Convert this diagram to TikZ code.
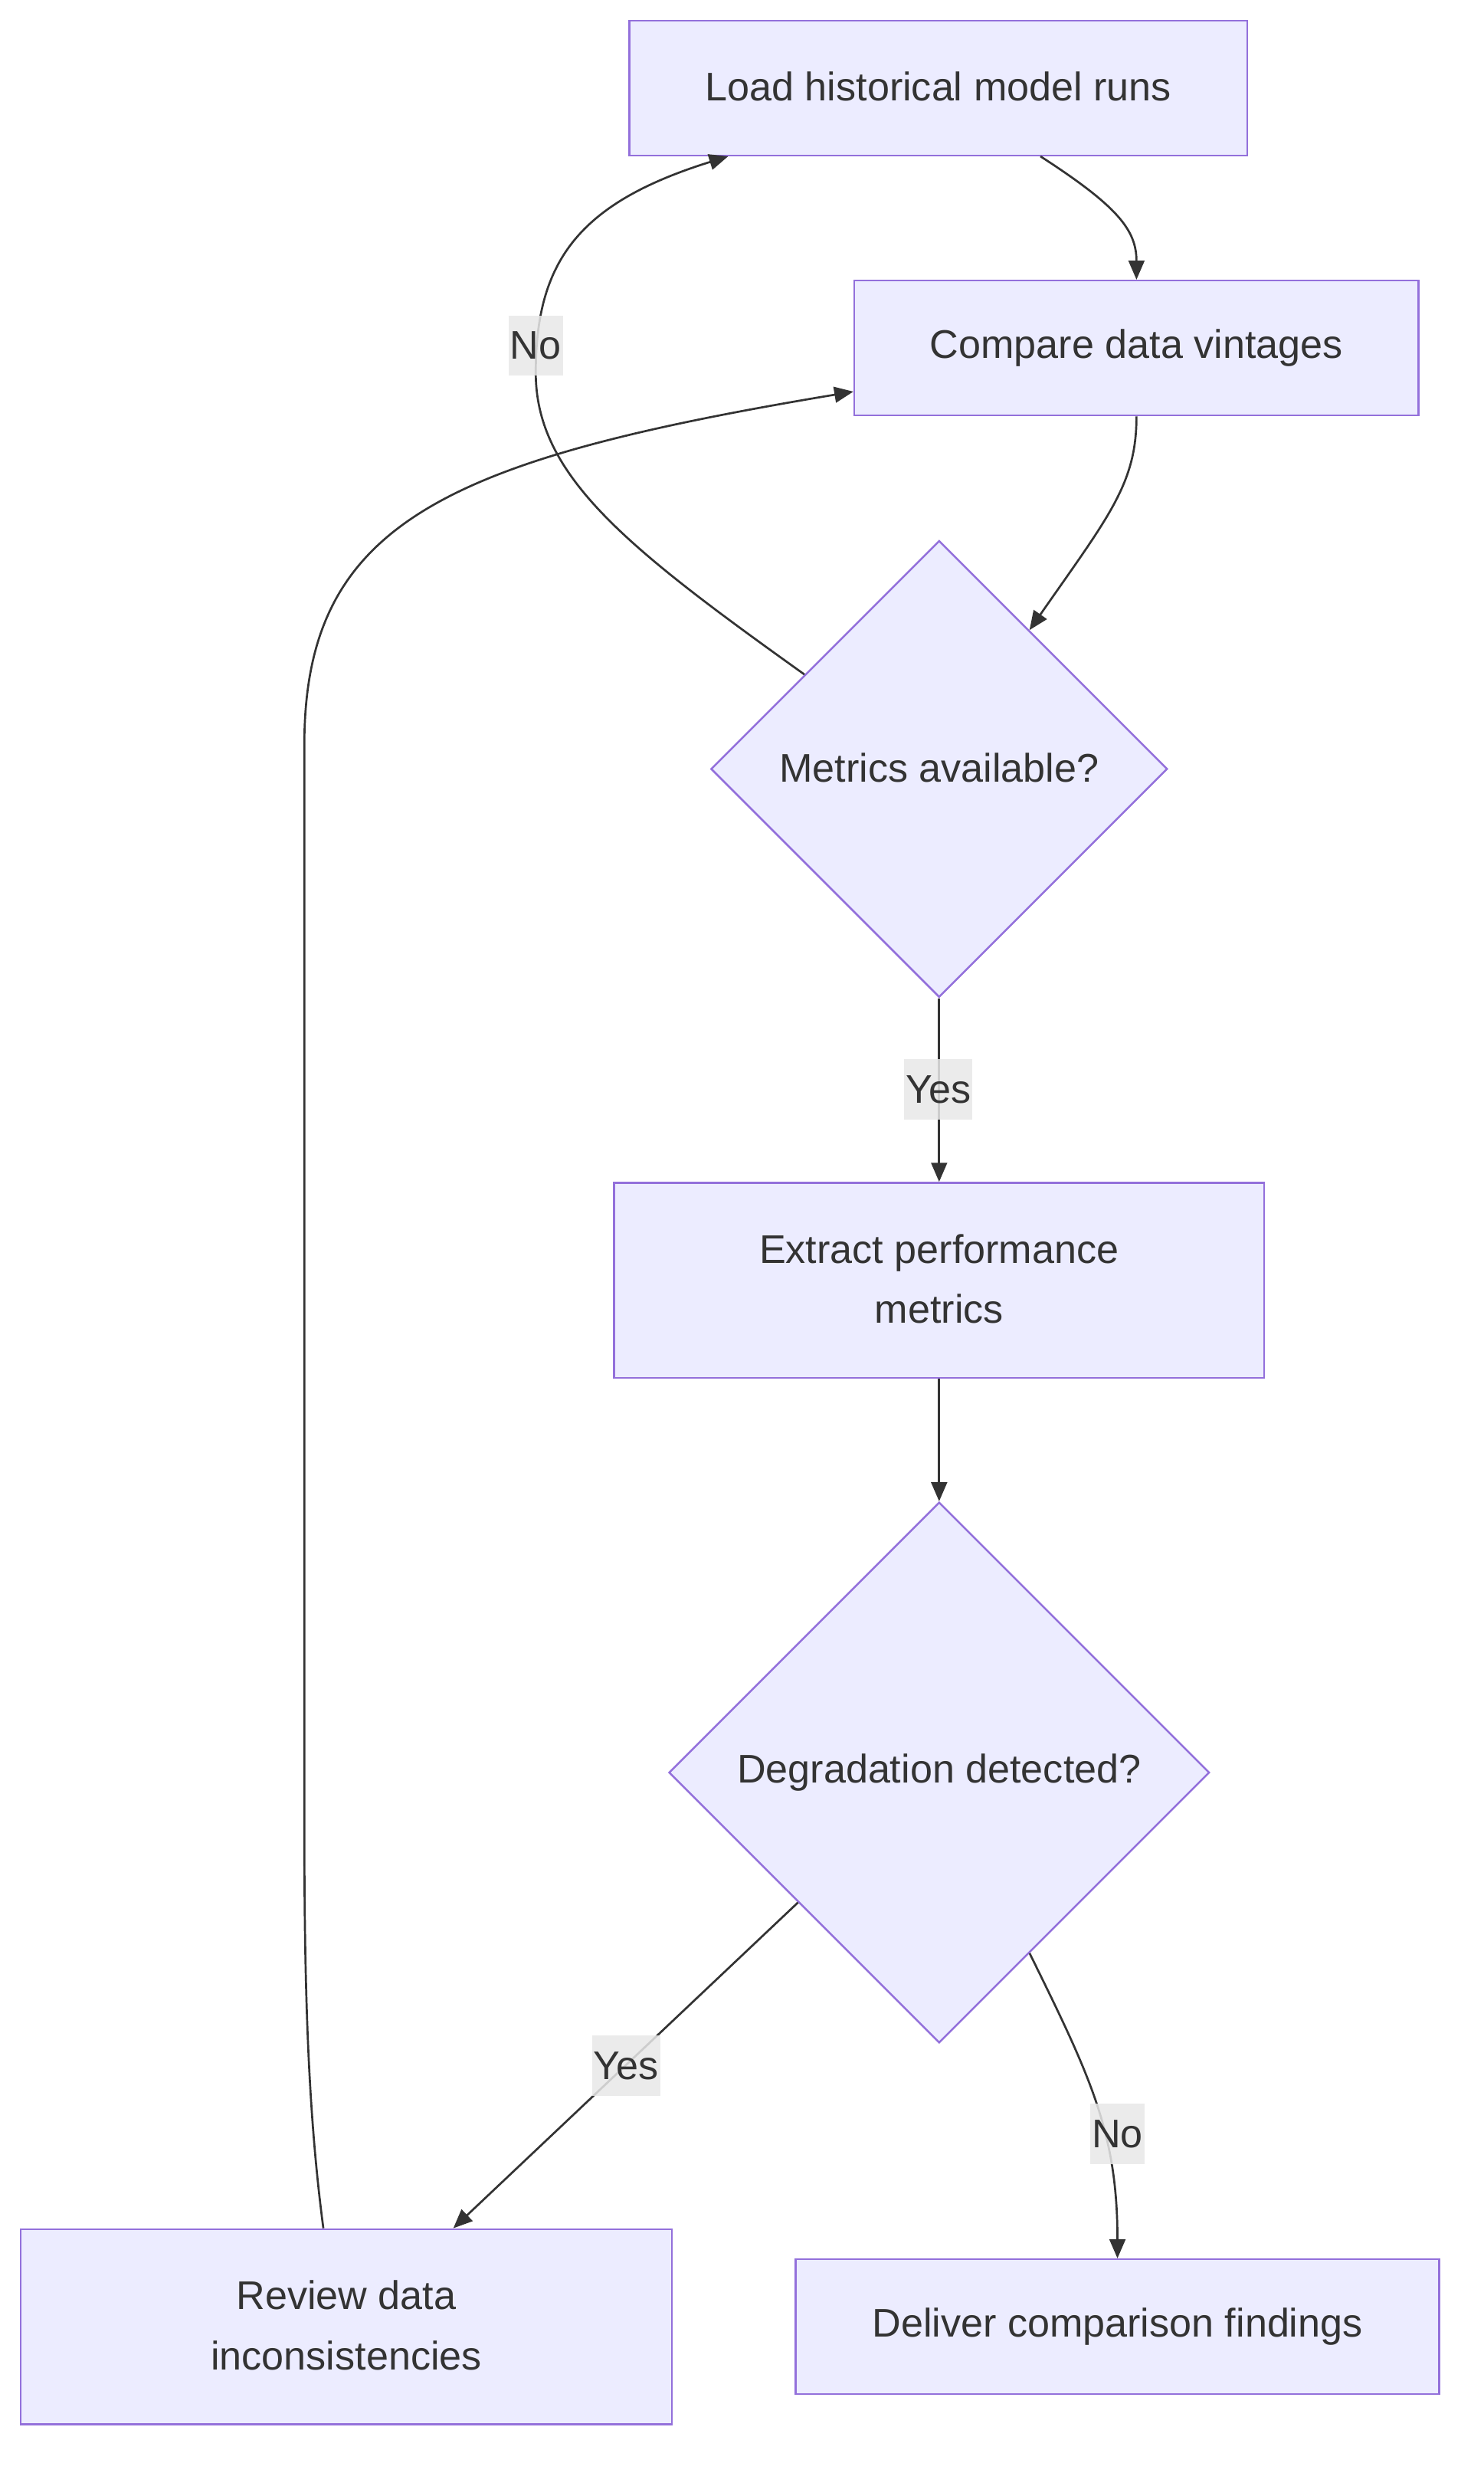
\documentclass[tikz,border=0pt]{standalone}
\usepackage{fontspec}
\setmainfont{Liberation Sans}
\usetikzlibrary{shapes.geometric,arrows.meta,calc}
\definecolor{nodefill}{HTML}{ECECFF}
\definecolor{nodeline}{HTML}{9370DB}
\definecolor{ink}{HTML}{333333}
\definecolor{lblbg}{HTML}{E8E8E8}
\tikzset{
  box/.style={draw=nodeline, fill=nodefill, line width=1.2pt, text=ink, align=center,
    font=\fontsize{25.2}{38}\selectfont, inner sep=0pt},
  decision/.style={diamond, shape aspect=1, draw=nodeline, fill=nodefill, line width=1.2pt,
    text=ink, align=center, font=\fontsize{25.2}{38}\selectfont, inner sep=0pt},
  conn/.style={draw=ink, line width=1.3pt, -{Triangle[length=12pt,width=10pt]}},
  lbl/.style={fill=lblbg, fill opacity=0.85, text opacity=1, text=ink,
    font=\fontsize{25.2}{30}\selectfont, inner xsep=1pt, inner ysep=0pt, minimum height=38pt}
}
\begin{document}
\begin{tikzpicture}[x=1pt,y=-1pt]
\useasboundingbox[fill=white] (0,0) rectangle (936,1568);

\node[box, minimum width=390pt, minimum height=85pt] (load) at (592,55.5) {\raisebox{2pt}{Load historical model runs}};
\node[box, minimum width=356pt, minimum height=85pt] (compare) at (717,219.5) {\raisebox{2pt}{Compare data vintages}};
\node[decision, minimum width=288pt, minimum height=288pt] (metrics) at (592.5,485) {\raisebox{2pt}{Metrics available?}};
\node[box, minimum width=410pt, minimum height=123pt] (extract) at (592.5,807.5) {\raisebox{2pt}{Extract performance}\\\raisebox{2pt}{metrics}};
\node[decision, minimum width=341pt, minimum height=341pt] (degr) at (592.5,1118) {\raisebox{2pt}{Degradation detected?}};
\node[box, minimum width=411pt, minimum height=123pt] (review) at (218.5,1467.5) {\raisebox{2pt}{Review data}\\\raisebox{2pt}{inconsistencies}};
\node[box, minimum width=406pt, minimum height=85pt] (deliver) at (705,1467.5) {\raisebox{2pt}{Deliver comparison findings}};

% Load -> Compare
\draw[conn] ($(load.south west)+(260,0)$) .. controls (705,130) and (717,145) .. (compare.north);
% Compare -> Metrics
\draw[conn] (compare.south) .. controls (717,305) and (700,325) .. ($(metrics.north)+(57,57)$);
% Metrics -> Load (No)
\draw[conn] ($(metrics.north)+(-85,85)$) .. controls (395,345) and (338,300) .. (338,235)
  .. controls (338,165) and (365,128) .. ($(load.south west)+(63,0)$);
\node[lbl] (lno) at (338,218) {No};
% Metrics -> Extract (Yes)
\draw[conn] (metrics.south) -- (extract.north);
\node[lbl] (lyes1) at (592,687) {Yes};
% Extract -> Degradation
\draw[conn] (extract.south) -- (degr.north);
% Degradation -> Review (Yes)
\draw[conn] ($(degr.west)+(82,82)$) -- ($(review.north)+(67.5,0)$);
\node[lbl] (lyes2) at (395,1303) {Yes};
% Degradation -> Deliver (No)
\draw[conn] ($(degr.east)+(-114,114)$) .. controls (688,1310) and (705,1345) .. (deliver.north);
\node[lbl] (lno2) at (705,1346) {No};
% Review -> Compare
\draw[conn] ($(review.north)+(-14.5,0)$) .. controls (194,1330) and (192,1250) .. (192,1150)
  -- (192,470) .. controls (192,330) and (280,290) .. ($(compare.west)+(0,27.5)$);
\end{tikzpicture}
\end{document}
